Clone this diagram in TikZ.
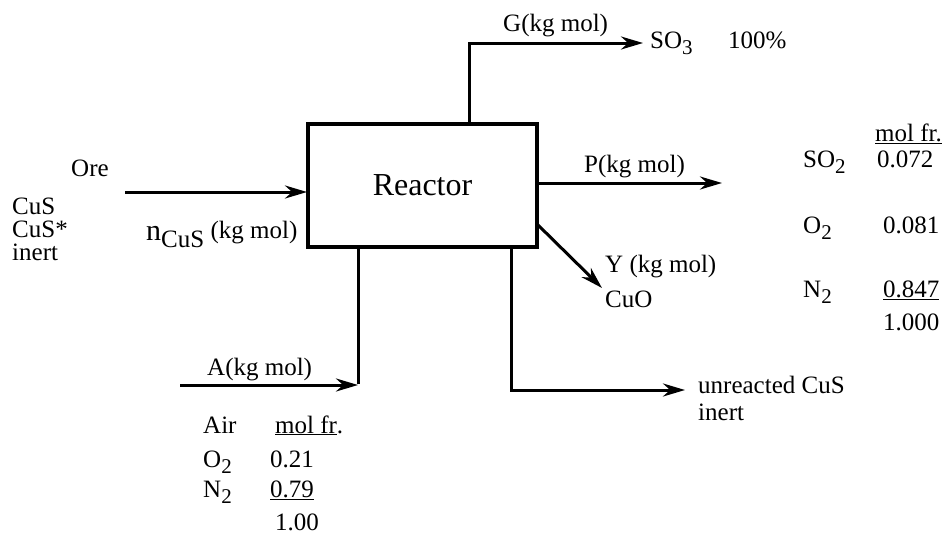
\documentclass[tikz,border=0pt]{standalone}
\usepackage{fontspec}
\setmainfont{Liberation Serif}
\usetikzlibrary{arrows.meta}
\newcommand\mysub[1]{\raisebox{-6.5pt}{\fontsize{21}{21}\selectfont #1}}
\begin{document}
\begin{tikzpicture}[x=1pt,y=-1pt,
  lbl/.style={anchor=base west, inner sep=0pt, font=\fontsize{25}{26}\selectfont},
  flow/.style={line width=3pt, -{Stealth[length=22pt,width=13pt]}},
  pipe/.style={line width=3pt},
  unit/.style={draw, line width=3.6pt, minimum width=229pt, minimum height=123pt, inner sep=0pt, font=\fontsize{32}{32}\selectfont}]
\useasboundingbox (0,0) rectangle (946,536);
\fill[white] (0,0) rectangle (946,536);
% reactor
\node[unit] (R) at (422.5,185.5) {Reactor};
% coordinates
\coordinate (ore0) at (125,192);
\coordinate (ore1) at (307,192);
\coordinate (g0) at (469,124);
\coordinate (g1) at (643,43);
\coordinate (p0) at (537,183);
\coordinate (p1) at (722,183);
\coordinate (y0) at (538,225);
\coordinate (y1) at (602,288);
\coordinate (u0) at (511,247);
\coordinate (u1) at (685,390);
\coordinate (a0) at (180,385);
\coordinate (a1) at (358,385);
\coordinate (a2) at (358,247);
% connectors
\draw[flow] (ore0) -- (ore1);
\draw[flow] (g0) |- (g1);
\draw[flow] (p0) -- (p1);
\draw[flow] (y0) -- (y1);
\draw[flow] (u0) |- (u1);
\draw[pipe] (a2) -- ([yshift=1.5pt]a1);
\draw[flow] (a0) -- (a1);
% feed labels
\node[lbl] (ore) at (71,176) {Ore};
\node[lbl] (cus) at (12,214) {CuS};
\node[lbl] (cuss) at (12,237) {CuS*};
\node[lbl] (inert1) at (12,260) {inert};
\node[lbl] (ncus) at (146,240) {{\fontsize{30}{30}\selectfont n}\raisebox{-7pt}{CuS} \raisebox{2pt}{(kg mol)}};
% G
\node[lbl] (glab) at (503,31) {G(kg mol)};
\node[lbl] (so3) at (650,48) {SO\mysub{3}};
\node[lbl] (pct) at (728,48) {100\%};
% P
\node[lbl] (plab) at (584,172) {P(kg mol)};
\node[lbl] (pmf) at (875,141) {\underline{mol fr.}};
\node[lbl] (pso2) at (803,167) {SO\mysub{2}};
\node[lbl] (pv1) at (877,167) {0.072};
\node[lbl] (po2) at (803,233) {O\mysub{2}};
\node[lbl] (pv2) at (883,233) {0.081};
\node[lbl] (pn2) at (803,297) {N\mysub{2}};
\node[lbl] (pv3) at (883,297) {\underline{0.847}};
\node[lbl] (pv4) at (883,330) {1.000};
% Y
\node[lbl] (ylab) at (605,272) {Y (kg mol)};
\node[lbl] (cuo) at (605,307) {CuO};
% unreacted
\node[lbl] (unr) at (698,393) {unreacted CuS};
\node[lbl] (inert2) at (698,420) {inert};
% A
\node[lbl] (alab) at (207,375) {A(kg mol)};
\node[lbl] (air) at (203,433) {Air};
\node[lbl] (amf) at (275,433) {\underline{mol fr}.};
\node[lbl] (ao2) at (203,467) {O\mysub{2}};
\node[lbl] (av1) at (270,467) {0.21};
\node[lbl] (an2) at (203,497) {N\mysub{2}};
\node[lbl] (av2) at (270,497) {\underline{0.79}};
\node[lbl] (av3) at (275,530) {1.00};
\end{tikzpicture}
\end{document}
